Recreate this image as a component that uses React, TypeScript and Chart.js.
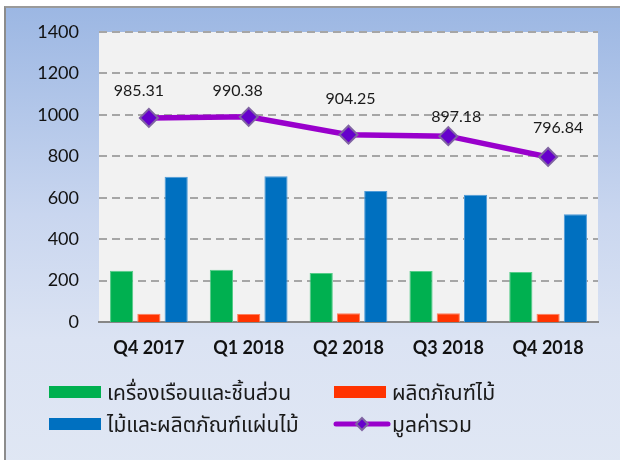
import React, { useEffect, useRef } from "react";
import { Chart, registerables } from "chart.js";

Chart.register(...registerables);

const categories = ["Q4 2017", "Q1 2018", "Q2 2018", "Q3 2018", "Q4 2018"];
const furniture = [248, 252, 236, 246, 241];
const woodProducts = [40, 39, 42, 42, 40];
const woodPanels = [701, 704, 633, 614, 520];
const totalValue = [985.31, 990.38, 904.25, 897.18, 796.84];
const yTicks = [0, 200, 400, 600, 800, 1000, 1200, 1400];

const seriesNames = [
  "เครื่องเรือนและชิ้นส่วน",
  "ผลิตภัณฑ์ไม้",
  "ไม้และผลิตภัณฑ์แผ่นไม้",
  "มูลค่ารวม",
];

const GREEN = "#00b050";
const RED = "#ff3300";
const BLUE = "#0070c0";
const PURPLE = "#9900cc";
const MARKER = "#6600cc";
const MARKER_BORDER = "#8064a2";

const THAI_FONT = "Lato, 'Noto Sans Thai', 'Noto Sans', sans-serif";

const labelOffsets = [
  [-10, -27],
  [-11, -26],
  [2, -36],
  [8, -19],
  [10, -29],
];

const plotBgPlugin = {
  id: "plotBg",
  beforeDraw(chart: any) {
    const { ctx, chartArea } = chart;
    ctx.save();
    ctx.fillStyle = "#f2f2f2";
    ctx.fillRect(chartArea.left, chartArea.top, chartArea.right - chartArea.left, chartArea.bottom - chartArea.top);
    ctx.restore();
  },
  beforeDatasetsDraw(chart: any) {
    const { ctx, chartArea } = chart;
    const y = chart.scales.y;
    ctx.save();
    ctx.strokeStyle = "#a6a6a6";
    ctx.lineWidth = 2;
    ctx.setLineDash([8, 5]);
    y.ticks.forEach((t: any) => {
      if (t.value === 0) return;
      const py = Math.round(y.getPixelForValue(t.value));
      ctx.beginPath();
      ctx.moveTo(chartArea.left, py);
      ctx.lineTo(chartArea.right, py);
      ctx.stroke();
    });
    ctx.restore();
  },
};

const valueLabelPlugin = {
  id: "valueLabels",
  afterDatasetsDraw(chart: any) {
    const { ctx } = chart;
    const meta = chart.getDatasetMeta(3);
    ctx.save();
    ctx.font = "16px Lato, sans-serif";
    ctx.fillStyle = "#1a1a1a";
    ctx.textAlign = "center";
    ctx.textBaseline = "middle";
    meta.data.forEach((pt: any, i: number) => {
      const [dx, dy] = labelOffsets[i];
      ctx.fillText(totalValue[i].toFixed(2), pt.x + dx, pt.y + dy);
    });
    ctx.restore();
  },
};

const legendPlugin = {
  id: "customLegend",
  afterDraw(chart: any) {
    const { ctx } = chart;
    const cols = [49, 334];
    const rows = [392, 424];
    const items = [
      { name: seriesNames[0], col: 0, row: 0, color: GREEN, kind: "box" },
      { name: seriesNames[1], col: 1, row: 0, color: RED, kind: "box" },
      { name: seriesNames[2], col: 0, row: 1, color: BLUE, kind: "box" },
      { name: seriesNames[3], col: 1, row: 1, color: PURPLE, kind: "line" },
    ];
    ctx.save();
    ctx.font = `21px ${THAI_FONT}`;
    ctx.textBaseline = "middle";
    ctx.textAlign = "left";
    items.forEach((it) => {
      const x = cols[it.col];
      const y = rows[it.row];
      if (it.kind === "box") {
        ctx.fillStyle = it.color;
        ctx.fillRect(x, y - 6, 52, 12);
      } else {
        ctx.strokeStyle = PURPLE;
        ctx.lineWidth = 5;
        ctx.lineCap = "round";
        ctx.beginPath();
        ctx.moveTo(x + 2, y);
        ctx.lineTo(x + 54, y);
        ctx.stroke();
        const cx = x + 28;
        const r = 6;
        ctx.beginPath();
        ctx.moveTo(cx, y - r);
        ctx.lineTo(cx + r, y);
        ctx.lineTo(cx, y + r);
        ctx.lineTo(cx - r, y);
        ctx.closePath();
        ctx.fillStyle = MARKER;
        ctx.fill();
        ctx.lineWidth = 2;
        ctx.strokeStyle = MARKER_BORDER;
        ctx.stroke();
      }
      ctx.fillStyle = "#1a1a1a";
      ctx.fillText(it.name, x + 58, y + 1);
    });
    ctx.restore();
  },
};

export default function App() {
  const canvasRef = useRef<HTMLCanvasElement | null>(null);

  useEffect(() => {
    document.body.style.margin = "0";
    const canvas = canvasRef.current;
    if (!canvas) return;
    const chart = new Chart(canvas, {
      type: "bar",
      data: {
        labels: categories,
        datasets: [
          {
            label: seriesNames[0],
            data: furniture,
            backgroundColor: GREEN,
            borderColor: "#55cc88",
            borderWidth: 1,
            order: 2,
          },
          {
            label: seriesNames[1],
            data: woodProducts,
            backgroundColor: RED,
            borderColor: "#ff8060",
            borderWidth: 1,
            order: 2,
          },
          {
            label: seriesNames[2],
            data: woodPanels,
            backgroundColor: BLUE,
            borderColor: "#4f9bd8",
            borderWidth: 1,
            order: 2,
          },
          {
            type: "line",
            label: seriesNames[3],
            data: totalValue,
            borderColor: PURPLE,
            borderWidth: 5.5,
            pointStyle: "rectRot",
            pointRadius: 9,
            pointBackgroundColor: MARKER,
            pointBorderColor: MARKER_BORDER,
            pointBorderWidth: 2,
            tension: 0,
            order: 0,
          } as any,
        ],
      },
      options: {
        responsive: false,
        animation: false,
        devicePixelRatio: 1,
        categoryPercentage: 0.82,
        barPercentage: 0.85,
        layout: { padding: { left: 0, right: 22, top: 32, bottom: 100 } },
        plugins: {
          legend: { display: false },
          tooltip: { enabled: false },
          title: { display: false },
        },
        scales: {
          x: {
            grid: { display: false, drawTicks: false },
            border: { display: true, color: "#868686", width: 2 },
            ticks: {
              color: "#111111",
              font: { family: "Lato, sans-serif", size: 18, weight: "bold" },
              padding: 15,
            },
            afterFit(scale: any) {
              scale.height = 38;
            },
          },
          y: {
            min: 0,
            max: 1400,
            afterBuildTicks(scale: any) {
              scale.ticks = yTicks.map((v) => ({ value: v }));
            },
            grid: { display: false, drawTicks: false },
            border: { display: false },
            ticks: {
              color: "#111111",
              font: { family: "Lato, sans-serif", size: 18 },
              padding: 20,
              callback: (v: any) => String(v),
            },
            afterFit(scale: any) {
              scale.width = 99;
            },
          },
        },
      },
      plugins: [plotBgPlugin, valueLabelPlugin, legendPlugin],
    } as any);
    return () => chart.destroy();
  }, []);

  return (
    <div style={{ position: "fixed", left: 0, top: 0, width: 620, height: 460, background: "#ffffff", overflow: "hidden" }}>
      <div
        style={{
          position: "absolute",
          left: 4,
          top: 6,
          width: 620,
          height: 460,
          borderLeft: "2px solid #8c8c8c",
          borderTop: "2px solid #9a9a9a",
          background: "linear-gradient(to bottom, #9cb7e3 0%, #c9d6ef 45%, #dbe3f3 72%, #e0e7f4 100%)",
        }}
      />
      <canvas ref={canvasRef} width={620} height={460} style={{ position: "absolute", left: 0, top: 0, width: 620, height: 460 }} />
    </div>
  );
}
